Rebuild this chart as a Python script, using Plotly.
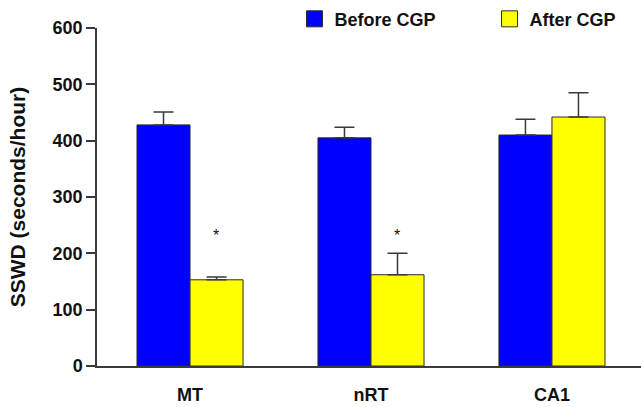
import plotly.graph_objects as go

categories = ["MT", "nRT", "CA1"]
before_vals = [428, 405, 410]
before_err = [23, 19, 28]
after_vals = [153, 162, 442]
after_err = [5, 38, 43]
significant = [True, True, False]
sig_level = 238
y_ticks = [0, 100, 200, 300, 400, 500, 600]

BLUE = "#0000ff"
YELLOW = "#ffff00"
EDGE = "#2a2a2a"
AXIS = "#3a3a3a"
FONT = "Liberation Sans, Arial, Helvetica, sans-serif"

fig = go.Figure()
fig.add_trace(go.Bar(
    x=categories, y=before_vals, name="Before CGP", showlegend=False,
    marker=dict(color=BLUE, line=dict(color=EDGE, width=1)),
    error_y=dict(type="data", array=before_err, arrayminus=[0]*3, symmetric=False,
                 color=AXIS, thickness=1.5, width=10),
))
fig.add_trace(go.Bar(
    x=categories, y=after_vals, name="After CGP", showlegend=False,
    marker=dict(color=YELLOW, line=dict(color=EDGE, width=1)),
    error_y=dict(type="data", array=after_err, arrayminus=[0]*3, symmetric=False,
                 color=AXIS, thickness=1.5, width=10),
))
# legend entries
for name, col in [("Before CGP", BLUE), ("After CGP", YELLOW)]:
    fig.add_trace(go.Scatter(
        x=[None], y=[None], mode="markers", name=name,
        marker=dict(symbol="square", size=16, color=col, line=dict(color=EDGE, width=1)),
    ))

for i, s in enumerate(significant):
    if s:
        fig.add_annotation(x=i, y=sig_level, text="*", showarrow=False, xshift=26, yshift=-4,
                           font=dict(family=FONT, size=16, color="#111"))

fig.update_layout(
    width=641, height=407,
    margin=dict(l=97, r=0, t=28, b=41, autoexpand=False),
    paper_bgcolor="white", plot_bgcolor="white",
    barmode="group", bargap=0.414, bargroupgap=0,
    font=dict(family=FONT, color="#111"),
    legend=dict(orientation="h", xref="container", yref="container", x=0.4595, y=0.953,
                xanchor="left", yanchor="middle", entrywidth=150, entrywidthmode="pixels",
                font=dict(family=FONT, size=18, color="#111", weight="bold"),
                itemsizing="trace", bgcolor="rgba(0,0,0,0)"),
    xaxis=dict(range=[-0.514, 2.492], showline=True, linecolor=AXIS, linewidth=1.5,
               ticks="", ticklabelstandoff=12, showgrid=False, zeroline=False,
               tickfont=dict(family=FONT, size=18, color="#111", weight="bold")),
    yaxis=dict(range=[0, 600], tickvals=y_ticks, showline=True, linecolor=AXIS, linewidth=1.5,
               ticks="outside", ticklen=9, tickwidth=1.5, tickcolor=AXIS,
               showgrid=False, zeroline=False,
               tickfont=dict(family=FONT, size=18, color="#111", weight="bold"),
               title=dict(text="SSWD (seconds/hour)", standoff=21,
                          font=dict(family=FONT, size=21, color="#111", weight="bold"))),
)

fig.write_html("out.html", config={"displayModeBar": False},
               post_script="document.body.style.margin='0';")
